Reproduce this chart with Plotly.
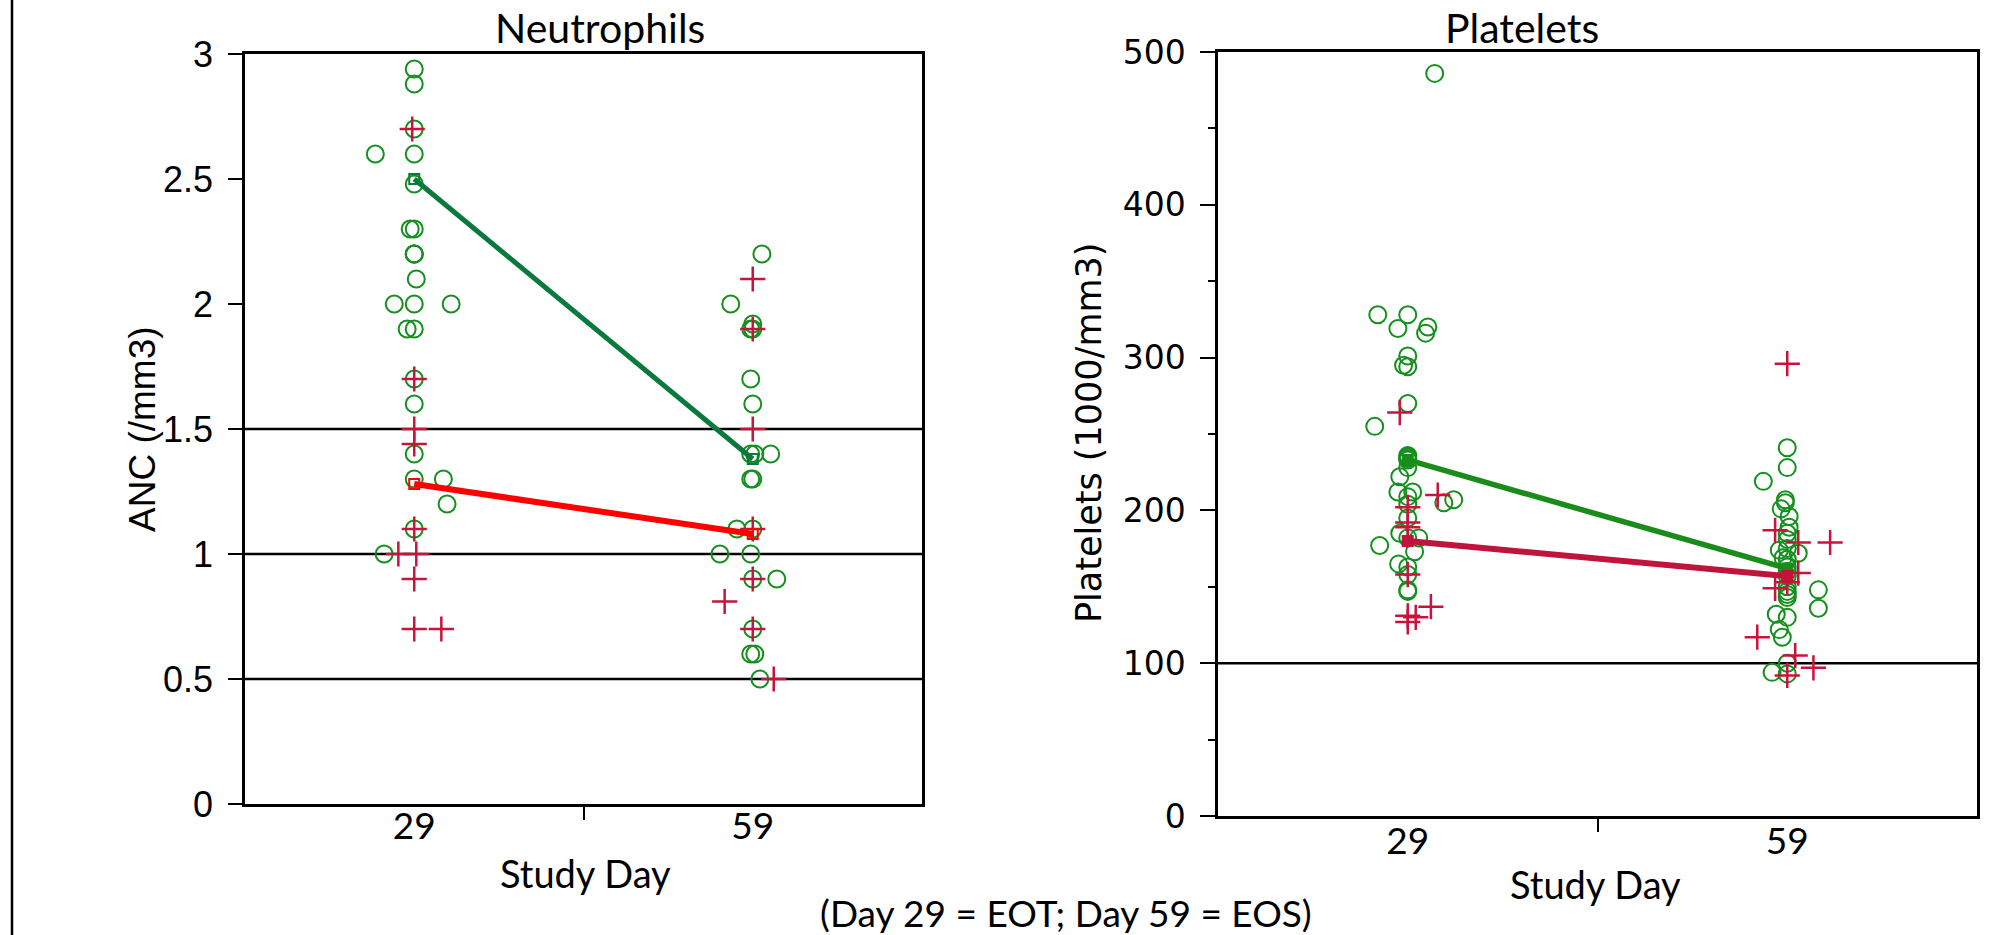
import plotly.graph_objects as go

# ---------------- data ----------------
day_labels = ["29", "59"]
day_index = [0, 1]

# Neutrophils (ANC, /mm3) -- green circles / red plus, with horizontal jitter (category units)
anc_d29_green = [2.94, 2.88, 2.70, 2.60, 2.60, 2.48, 2.30, 2.30, 2.20, 2.20, 2.20, 2.10, 2.00, 2.00, 2.00,
                 1.90, 1.90, 1.70, 1.60, 1.40, 1.30, 1.30, 1.20, 1.10, 1.00]
anc_d29_green_jit = [0, 0, 0, -0.115, 0, 0, -0.012, 0, 0, 0, 0, 0.006, -0.059, 0, 0.109,
                     -0.021, 0, 0, 0, 0, 0, 0.086, 0.097, 0, -0.089]
anc_d29_red = [2.70, 1.70, 1.50, 1.44, 1.10, 1.00, 1.00, 0.90, 0.70, 0.70]
anc_d29_red_jit = [-0.006, 0, 0, 0, 0, -0.047, 0.006, 0, 0, 0.08]
anc_d59_green = [2.20, 2.00, 1.92, 1.90, 1.90, 1.70, 1.60, 1.40, 1.40, 1.40, 1.30, 1.30, 1.10, 1.10,
                 1.00, 1.00, 0.90, 0.90, 0.70, 0.60, 0.60, 0.50]
anc_d59_green_jit = [0.027, -0.065, 0, -0.006, 0, -0.006, 0, -0.006, 0.006, 0.053, -0.006, 0, -0.047, 0,
                     -0.097, -0.006, 0, 0.071, 0, -0.006, 0.006, 0.021]
anc_d59_red = [2.10, 1.90, 1.50, 1.10, 0.90, 0.81, 0.70, 0.50]
anc_d59_red_jit = [0, 0, 0, 0, 0, -0.083, 0, 0.062]
anc_mean_green = [2.50, 1.38]
anc_mean_red = [1.28, 1.08]
anc_ref_lines = [0.5, 1.0, 1.5]

# Platelets (1000/mm3)
plt_d29_green = [486, 328, 328, 319, 320, 316, 301, 295, 294, 270, 255, 236, 235, 234, 233, 228, 222,
                 212, 212, 209, 205, 207, 204, 195, 185, 182, 182, 177, 173, 165, 163, 158, 148, 147]
plt_d29_green_jit = [0.071, -0.079, 0, -0.026, 0.053, 0.047, 0, -0.011, 0, 0, -0.087, 0, 0, 0, 0, 0, -0.021,
                     -0.026, 0.013, 0, 0.095, 0.121, 0, 0, -0.021, 0.029, 0, -0.074, 0.018, -0.024, 0, 0, 0, 0]
plt_d29_red = [264, 210, 202, 192, 189, 158, 137, 131, 130, 127]
plt_d29_red_jit = [-0.021, 0.079, 0, 0, 0, 0, 0.061, 0, 0.021, 0]
plt_d59_green = [241, 228, 219, 207, 205, 201, 196, 189, 185, 181, 175, 174, 172, 169, 168, 163, 160, 157,
                 150, 148, 147, 145, 143, 136, 132, 130, 122, 117, 100, 94, 93]
plt_d59_green_jit = [0, 0, -0.063, -0.005, -0.005, -0.016, 0.005, 0.005, 0, 0, 0, -0.021, 0.029, -0.011, 0, 0,
                     0, 0, 0, 0.082, 0, 0, 0, 0.082, -0.029, 0, -0.021, -0.013, 0, -0.04, 0]
plt_d59_red = [296, 187, 179, 179, 159, 153, 149, 117, 105, 97, 92]
plt_d59_red_jit = [0, -0.032, 0.029, 0.113, 0.029, 0, -0.032, -0.079, 0.021, 0.069, 0]
plt_mean_green = [233, 162]
plt_mean_red = [180, 157]
plt_ref_lines = [100]

# ---------------- styles ----------------
GREEN_PT = "#14901e"
RED_PT = "#c8143c"
LEFT_GREEN_LINE = "#0a7a3c"
LEFT_RED_LINE = "#ff0000"
RIGHT_GREEN_LINE = "#1a8c1a"
RIGHT_RED_LINE = "#c0143c"

fig = go.Figure()


def add_points(vals, jit, day, symbol, color, xa, ya):
    xs = [day_index[day] + j for j in jit]
    if symbol == "circle-open":
        marker = dict(symbol="circle-open", size=17, color=color, line=dict(width=2, color=color))
    else:
        marker = dict(symbol="cross-thin-open", size=18, color=color, line=dict(width=2.5, color=color))
    fig.add_trace(go.Scatter(x=xs, y=vals, mode="markers", marker=marker, xaxis=xa, yaxis=ya,
                             showlegend=False, hoverinfo="y"))


def add_mean(vals, color, width, xa, ya, msym):
    fig.add_trace(go.Scatter(x=day_index, y=vals, mode="lines+markers",
                             line=dict(color=color, width=width),
                             marker=dict(symbol=msym, size=10, color=color, line=dict(width=2, color=color)),
                             xaxis=xa, yaxis=ya, showlegend=False))


# left panel
add_points(anc_d29_green, anc_d29_green_jit, 0, "circle-open", GREEN_PT, "x", "y")
add_points(anc_d59_green, anc_d59_green_jit, 1, "circle-open", GREEN_PT, "x", "y")
add_points(anc_d29_red, anc_d29_red_jit, 0, "cross", RED_PT, "x", "y")
add_points(anc_d59_red, anc_d59_red_jit, 1, "cross", RED_PT, "x", "y")
add_mean(anc_mean_green, LEFT_GREEN_LINE, 5, "x", "y", "square-open")
add_mean(anc_mean_red, LEFT_RED_LINE, 6, "x", "y", "square-open")

# right panel
add_points(plt_d29_green, plt_d29_green_jit, 0, "circle-open", GREEN_PT, "x2", "y2")
add_points(plt_d59_green, plt_d59_green_jit, 1, "circle-open", GREEN_PT, "x2", "y2")
add_points(plt_d29_red, plt_d29_red_jit, 0, "cross", RED_PT, "x2", "y2")
add_points(plt_d59_red, plt_d59_red_jit, 1, "cross", RED_PT, "x2", "y2")
add_mean(plt_mean_green, RIGHT_GREEN_LINE, 5.5, "x2", "y2", "square")
add_mean(plt_mean_red, RIGHT_RED_LINE, 6, "x2", "y2", "square")

W, H = 2001, 935


def px(x):
    return x / W


def py(y):
    return 1 - y / H


tick_font_x = dict(family="Lato", size=37, color="black")


def xaxis_common(standoff):
    return dict(range=[-0.5, 1.5], tickvals=day_index, ticktext=day_labels, ticks="",
                showline=True, linecolor="black", linewidth=2.5, mirror=True, showgrid=False,
                zeroline=False, tickfont=tick_font_x, ticklabelstandoff=standoff, automargin=False,
                minor=dict(tickvals=[0.5], ticks="outside", ticklen=13, tickwidth=2,
                           tickcolor="black", showgrid=False))


fig.update_layout(
    template="none",
    width=W, height=H,
    margin=dict(l=0, r=0, t=0, b=0, pad=0, autoexpand=False),
    paper_bgcolor="white", plot_bgcolor="white",
    xaxis=dict(domain=[px(245), px(922)], anchor="y", **xaxis_common(-12)),
    yaxis=dict(domain=[py(804), py(54)], anchor="x", range=[0, 3], dtick=0.5, tick0=0,
               ticks="outside", ticklen=14, tickwidth=2, tickcolor="black",
               showline=True, linecolor="black", linewidth=2.5, mirror=True,
               showgrid=False, zeroline=False, ticklabelstandoff=8, automargin=False,
               tickfont=dict(family="Liberation Sans", size=36, color="black")),
    xaxis2=dict(domain=[px(1218), px(1977)], anchor="y2", **xaxis_common(-9)),
    yaxis2=dict(domain=[py(816), py(52)], anchor="x2", range=[0, 500], dtick=100, tick0=0,
                ticks="outside", ticklen=15, tickwidth=2, tickcolor="black",
                showline=True, linecolor="black", linewidth=2.5, mirror=True,
                showgrid=False, zeroline=False, ticklabelstandoff=8, automargin=False,
                tickfont=dict(family="DejaVu Sans", size=33, color="black"),
                minor=dict(dtick=50, ticks="outside", ticklen=7, tickwidth=2, tickcolor="black",
                           showgrid=False)),
)

# reference lines
for v in anc_ref_lines:
    fig.add_shape(type="line", xref="x domain", yref="y", x0=0, x1=1, y0=v, y1=v,
                  line=dict(color="black", width=2.5), layer="below")
for v in plt_ref_lines:
    fig.add_shape(type="line", xref="x2 domain", yref="y2", x0=0, x1=1, y0=v, y1=v,
                  line=dict(color="black", width=2.5), layer="below")

# left frame line of the figure
fig.add_shape(type="line", xref="paper", yref="paper", x0=px(12), x1=px(12), y0=0, y1=1,
              line=dict(color="black", width=2.5))

ann = [
    dict(text="Neutrophils", x=px(600), y=py(27), font=dict(family="Lato", size=41)),
    dict(text="Platelets", x=px(1522), y=py(27), font=dict(family="Lato", size=41)),
    dict(text="ANC (/mm3)", x=px(143), y=py(429), textangle=-90,
         font=dict(family="Liberation Sans", size=37)),
    dict(text="Platelets (1000/mm3)", x=px(1089), y=py(433), textangle=-90,
         font=dict(family="DejaVu Sans", size=35)),
    dict(text="Study Day", x=px(585), y=py(873), font=dict(family="Lato", size=38)),
    dict(text="Study Day", x=px(1595), y=py(884), font=dict(family="Lato", size=38)),
    dict(text="(Day 29 = EOT; Day 59 = EOS)", x=px(1066), y=py(912), font=dict(family="Lato", size=37)),
]
for a in ann:
    a["font"]["color"] = "black"
    fig.add_annotation(xref="paper", yref="paper", showarrow=False, xanchor="center", yanchor="middle", **a)

fig.write_html("out.html", config={"displayModeBar": False},
               post_script="document.body.style.margin='0';")
